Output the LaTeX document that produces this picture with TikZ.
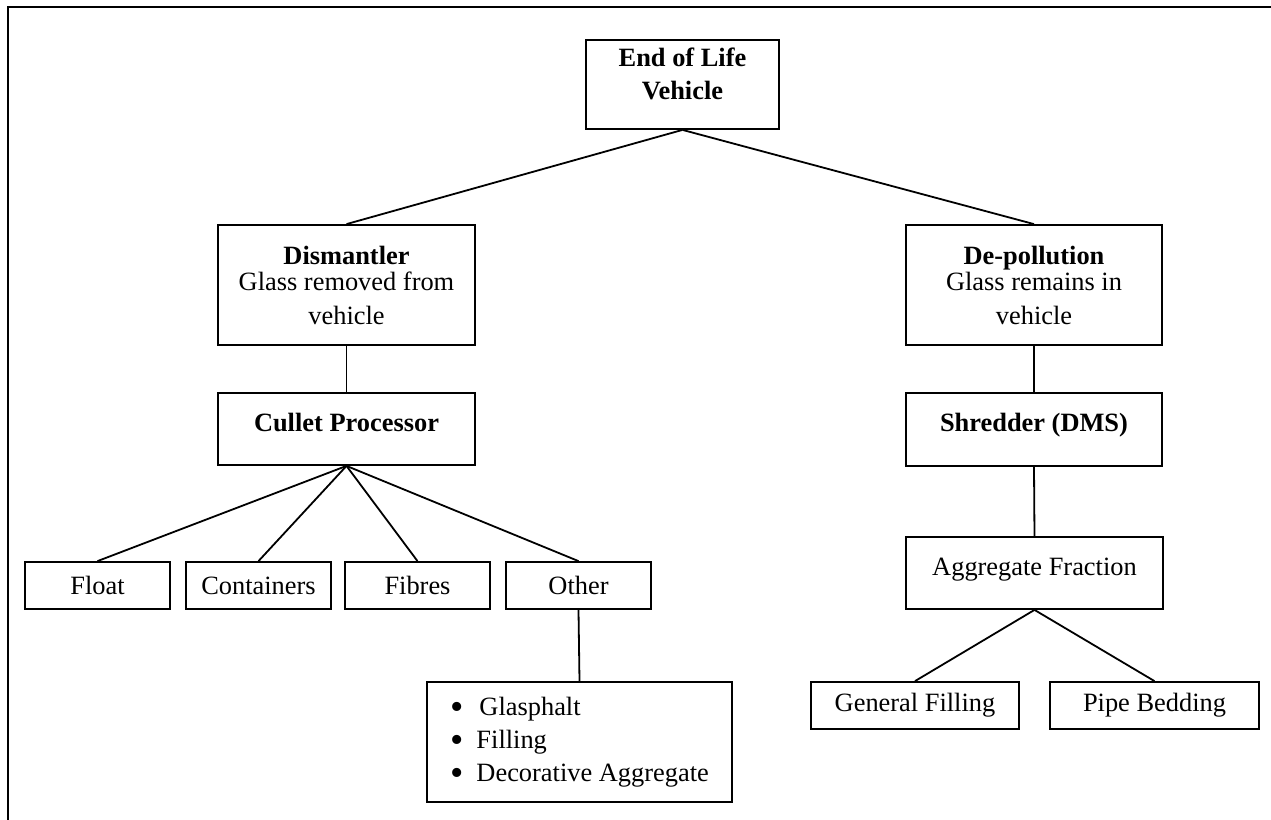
\documentclass[tikz,border=0pt]{standalone}
\usepackage{fontspec}
\setmainfont{Liberation Serif}
\usepackage{tikz}

\newcommand{\bigbullet}{\raisebox{-2.2pt}[6pt][0pt]{\fontsize{19pt}{19pt}\selectfont\textbullet}}

\tikzset{
	box/.style={draw, rectangle, line width=0.9pt, align=center, inner sep=2pt, font=\fontsize{13.2pt}{15.5pt}\selectfont},
	leaf/.style={box, minimum width=72.5pt, minimum height=23.5pt},
	link/.style={line width=0.9pt},
}

\begin{document}
\begin{tikzpicture}[x=0.5pt, y=-0.5pt]

	\useasboundingbox (0, 0) rectangle (1271, 820);

	% Draw outer frame (only top and left edges show)
	\draw[line width=1pt] (8, 820) -- (8, 7) -- (1271, 7);

	% Draw boxes
	% top level
	\node[box, minimum width=96.5pt, minimum height=44.5pt] (eol) at (682.5, 84.5) {\textbf{End of Life}\\[1pt]\textbf{Vehicle}\\[-5pt]\mbox{}};

	% second level
	\node[box, minimum width=128.5pt, minimum height=60pt] (dis) at (346.5, 285) {\textbf{Dismantler}\\[-2.5pt]Glass removed from\\[1.5pt]vehicle};
	\node[box, minimum width=128pt, minimum height=60pt] (dep) at (1034, 285) {\textbf{De-pollution}\\[-2.5pt]Glass remains in\\[1.5pt]vehicle};

	% processors
	\node[box, minimum width=128.5pt, minimum height=36pt, text depth=7pt] (cul) at (346.5, 429) {\textbf{Cullet Processor}};
	\node[box, minimum width=128pt, minimum height=36.5pt, text depth=7pt] (shr) at (1034, 429.5) {\textbf{Shredder (DMS)}};
	\node[box, minimum width=128.5pt, minimum height=36pt, text depth=6.5pt] (agg) at (1034.5, 573) {Aggregate Fraction};

	% glass uses
	\node[leaf] (flt) at (97.5, 585.5) {Float};
	\node[leaf] (cnt) at (258.5, 585.5) {Containers};
	\node[leaf] (fib) at (417.5, 585.5) {Fibres};
	\node[leaf] (oth) at (578.5, 585.5) {Other};

	\node[box, align=left, minimum width=152.5pt, minimum height=60pt] (lst) at (579.5, 742)
		{\bigbullet\hspace{8pt}Glasphalt\\[1pt]\bigbullet\hspace{6.5pt}Filling\\[1pt]\bigbullet\hspace{6.5pt}Decorative Aggregate};

	% aggregate uses
	\node[box, minimum width=104pt, minimum height=23.5pt] (gfl) at (915, 705.5) {General Filling};
	\node[box, minimum width=104.5pt, minimum height=23.5pt] (pbd) at (1154.5, 705.5) {Pipe Bedding};

	% Draw connectors
	\draw[link] (eol.south) -- (dis.north);
	\draw[link] (eol.south) -- (dep.north);
	\draw[link] (dis.south) -- (cul.north);
	\draw[link] (dep.south) -- (shr.north);
	\draw[link] (shr.south) -- (agg.north);

	\foreach \n in {flt, cnt, fib, oth}
		\draw[link] (cul.south) -- (\n.north);

	\draw[link] (oth.south) -- (lst.north);
	\draw[link] (agg.south) -- (gfl.north);
	\draw[link] (agg.south) -- (pbd.north);

\end{tikzpicture}
\end{document}
